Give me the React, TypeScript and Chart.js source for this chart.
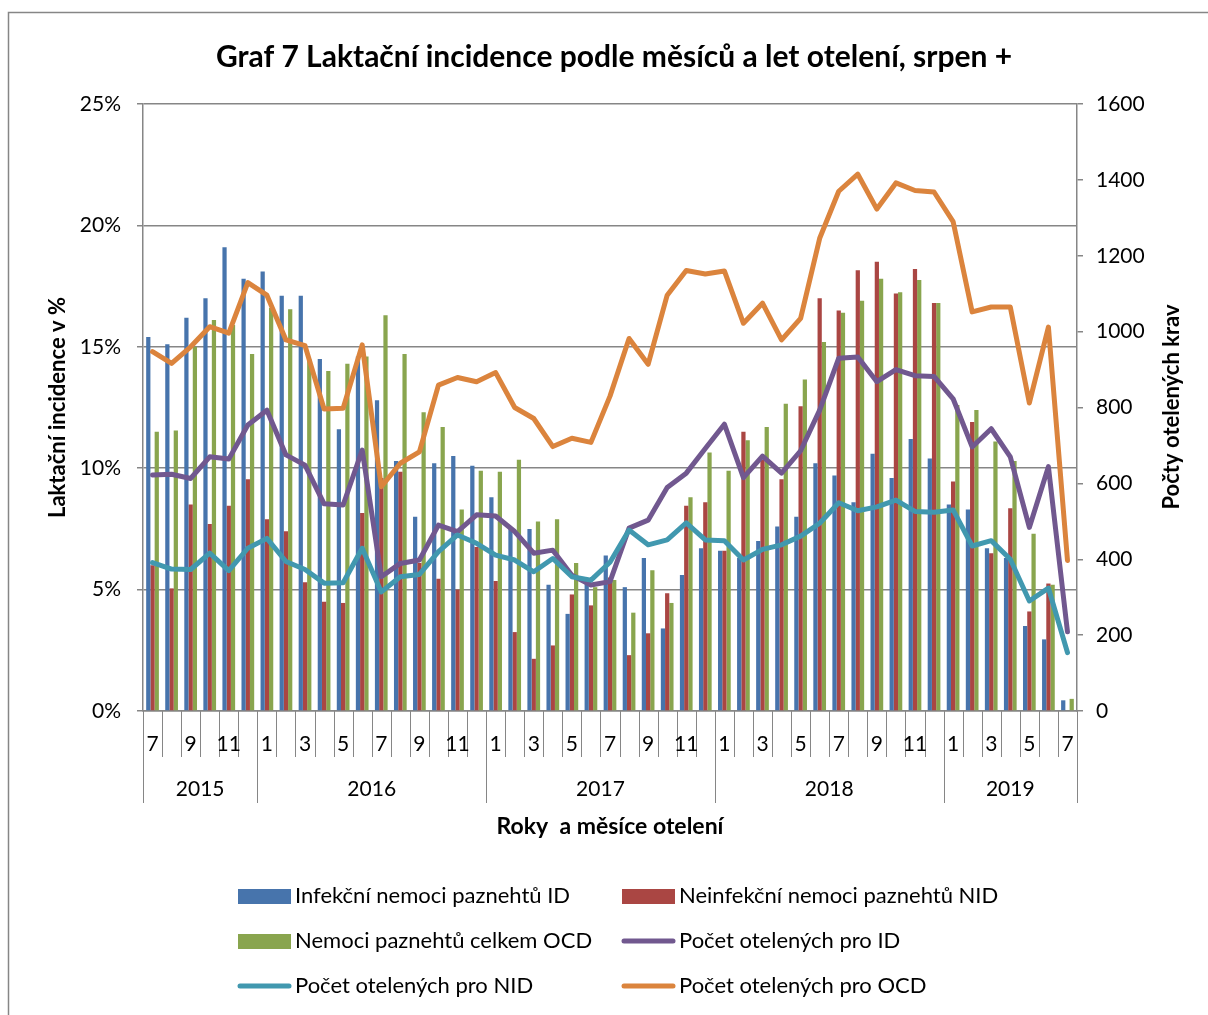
import { useEffect, useRef } from "react";
import { Chart, registerables } from "chart.js";

Chart.register(...registerables);

// ---- data ----
const monthLabels = [
  "7", "8", "9", "10", "11", "12",
  "1", "2", "3", "4", "5", "6", "7", "8", "9", "10", "11", "12",
  "1", "2", "3", "4", "5", "6", "7", "8", "9", "10", "11", "12",
  "1", "2", "3", "4", "5", "6", "7", "8", "9", "10", "11", "12",
  "1", "2", "3", "4", "5", "6", "7",
];
const yearLabels = ["2015", "2016", "2017", "2018", "2019"];
const monthsPerYear = [6, 12, 12, 12, 7];

const idPct = [
  15.4, 15.1, 16.2, 17.0, 19.1, 17.8,
  18.1, 17.1, 17.1, 14.5, 11.6, 14.6, 12.8, 10.3, 8.0, 10.2, 10.5, 10.1,
  8.8, 7.5, 7.5, 5.2, 4.0, 5.3, 6.4, 5.1, 6.3, 3.4, 5.6, 6.7,
  6.6, 6.3, 7.0, 7.6, 8.0, 10.2, 9.7, 8.6, 10.6, 9.6, 11.2, 10.4,
  8.5, 8.3, 6.7, 6.3, 3.5, 2.95, 0.44,
];
const nidPct = [
  6.0, 5.05, 8.5, 7.7, 8.45, 9.55,
  7.9, 7.4, 5.3, 4.5, 4.45, 8.15, 9.6, 9.85, 6.1, 5.45, 5.0, 6.75,
  5.35, 3.25, 2.15, 2.7, 4.8, 4.35, 5.5, 2.3, 3.2, 4.85, 8.45, 8.6,
  6.6, 11.5, 10.35, 9.55, 12.55, 17.0, 16.5, 18.15, 18.5, 17.2, 18.2, 16.8,
  9.45, 11.9, 6.5, 8.35, 4.1, 5.25, 0,
];
const ocdPct = [
  11.5, 11.55, 15.0, 16.1, 15.9, 14.7,
  16.6, 16.55, 14.5, 14.0, 14.3, 14.6, 16.3, 14.7, 12.3, 11.7, 8.3, 9.9,
  9.85, 10.35, 7.8, 7.9, 6.1, 5.1, 5.4, 4.05, 5.8, 4.45, 8.8, 10.65,
  9.9, 11.15, 11.7, 12.65, 13.65, 15.2, 16.4, 16.9, 17.8, 17.25, 17.75, 16.8,
  12.6, 12.4, 11.1, 10.3, 7.3, 5.2, 0.5,
];
const idCount = [
  622, 624, 613, 670, 664, 754,
  793, 675, 648, 546, 543, 688, 354, 389, 398, 490, 473, 517,
  514, 473, 416, 424, 358, 332, 341, 482, 503, 589, 627, 692,
  756, 615, 672, 627, 686, 793, 930, 933, 868, 900, 884, 882,
  823, 696, 744, 670, 484, 644, 209,
];
const nidCount = [
  391, 374, 373, 416, 370, 429,
  455, 394, 373, 337, 338, 429, 314, 354, 360, 420, 464, 442,
  411, 398, 367, 402, 354, 345, 392, 477, 438, 451, 496, 451,
  449, 398, 426, 438, 461, 495, 549, 528, 538, 556, 526, 524,
  530, 435, 449, 400, 290, 324, 154,
];
const ocdCount = [
  947, 916, 960, 1013, 996, 1129,
  1096, 978, 963, 796, 798, 965, 591, 653, 683, 859, 879, 868,
  892, 800, 771, 697, 719, 708, 830, 982, 914, 1096, 1161, 1152,
  1160, 1022, 1075, 978, 1035, 1246, 1370, 1415, 1323, 1392, 1372, 1368,
  1290, 1052, 1065, 1065, 812, 1012, 397,
];

const TITLE = "Graf 7 Laktační incidence podle měsíců a let otelení, srpen +";
const LEFT_TITLE = "Laktační incidence v %";
const RIGHT_TITLE = "Počty otelených krav";
const X_TITLE = "Roky  a měsíce otelení";

const C_BLUE = "#4774AC";
const C_RED = "#AA4643";
const C_GREEN = "#89A54E";
const C_PURPLE = "#71588F";
const C_TEAL = "#4198AF";
const C_ORANGE = "#DB843D";
const C_AXIS = "#868686";
const FONT = "Lato, 'Open Sans', sans-serif";

const legendItems = [
  { label: "Infekční nemoci paznehtů ID", color: C_BLUE, kind: "bar" },
  { label: "Neinfekční nemoci paznehtů NID", color: C_RED, kind: "bar" },
  { label: "Nemoci paznehtů celkem OCD", color: C_GREEN, kind: "bar" },
  { label: "Počet otelených pro ID", color: C_PURPLE, kind: "line" },
  { label: "Počet otelených pro NID", color: C_TEAL, kind: "line" },
  { label: "Počet otelených pro OCD", color: C_ORANGE, kind: "line" },
];

const decorPlugin = {
  id: "decor",
  afterDraw(chart: any) {
    const { ctx, chartArea: a, scales } = chart;
    const xs = scales.x;
    ctx.save();
    // outer frame
    ctx.strokeStyle = C_AXIS;
    ctx.lineWidth = 1.5;
    ctx.strokeRect(8.5, 12.5, 1400, 1200);

    // title
    ctx.fillStyle = "#000";
    ctx.textAlign = "center";
    ctx.textBaseline = "middle";
    ctx.font = `bold 30px ${FONT}`;
    ctx.fillText(TITLE, 614, 57);

    // right axis title (reads bottom to top)
    ctx.save();
    ctx.translate(1172, 407);
    ctx.rotate(-Math.PI / 2);
    ctx.font = `bold 22px ${FONT}`;
    ctx.fillText(RIGHT_TITLE, 0, 0);
    ctx.restore();

    // category axis: month separators, month labels, year labels
    const n = monthLabels.length;
    const step = (a.right - a.left) / n;
    const yearBounds = new Set<number>();
    let acc = 0;
    yearBounds.add(0);
    monthsPerYear.forEach((m) => {
      acc += m;
      yearBounds.add(acc);
    });
    ctx.strokeStyle = C_AXIS;
    ctx.lineWidth = 1;
    for (let i = 0; i <= n; i++) {
      const bx = Math.round(xs.getPixelForValue(i) - step / 2) + 0.5;
      const len = yearBounds.has(i) ? 92 : 46;
      ctx.beginPath();
      ctx.moveTo(bx, a.bottom);
      ctx.lineTo(bx, a.bottom + len);
      ctx.stroke();
    }
    ctx.font = `21px ${FONT}`;
    ctx.fillStyle = "#000";
    for (let i = 0; i < n; i += 2) {
      ctx.fillText(monthLabels[i], xs.getPixelForValue(i), a.bottom + 33);
    }
    let start = 0;
    yearLabels.forEach((y, k) => {
      const end = start + monthsPerYear[k];
      const cx = (xs.getPixelForValue(start) + xs.getPixelForValue(end - 1)) / 2;
      ctx.fillText(y, cx, a.bottom + 78);
      start = end;
    });

    // legend (2 columns x 3 rows)
    ctx.textAlign = "left";
    ctx.font = `22px ${FONT}`;
    legendItems.forEach((it, k) => {
      const col = k % 2;
      const row = Math.floor(k / 2);
      const sx = col === 0 ? 238 : 622;
      const sy = 896 + row * 45;
      if (it.kind === "bar") {
        ctx.fillStyle = it.color;
        ctx.fillRect(sx, sy - 7, 53, 15);
      } else {
        ctx.strokeStyle = it.color;
        ctx.lineWidth = 5;
        ctx.lineCap = "round";
        ctx.beginPath();
        ctx.moveTo(sx + 2, sy);
        ctx.lineTo(sx + 51, sy);
        ctx.stroke();
      }
      ctx.fillStyle = "#000";
      ctx.fillText(it.label, sx + 57, sy);
    });
    ctx.restore();
  },
};

export default function App() {
  const ref = useRef<HTMLCanvasElement | null>(null);
  useEffect(() => {
    if (!ref.current) return;
    const lineDs = (label: string, data: number[], color: string, order: number) => ({
      type: "line" as const,
      label,
      data,
      yAxisID: "y1",
      borderColor: color,
      backgroundColor: color,
      borderWidth: 5,
      pointRadius: 0,
      tension: 0,
      borderJoinStyle: "round" as const,
      borderCapStyle: "round" as const,
      order,
    });
    const barDs = (label: string, data: number[], color: string, order: number) => ({
      type: "bar" as const,
      label,
      data,
      yAxisID: "y",
      backgroundColor: color,
      borderWidth: 0,
      categoryPercentage: 0.667,
      barPercentage: 1,
      order,
    });
    const chart = new Chart(ref.current, {
      type: "bar",
      data: {
        labels: monthLabels,
        datasets: [
          barDs(legendItems[0].label, idPct, C_BLUE, 4),
          barDs(legendItems[1].label, nidPct, C_RED, 5),
          barDs(legendItems[2].label, ocdPct, C_GREEN, 6),
          lineDs(legendItems[3].label, idCount, C_PURPLE, 3),
          lineDs(legendItems[4].label, nidCount, C_TEAL, 2),
          lineDs(legendItems[5].label, ocdCount, C_ORANGE, 1),
        ] as any,
      },
      options: {
        responsive: false,
        animation: false,
        devicePixelRatio: 1,
        layout: { padding: { top: 104, left: 0, right: 0, bottom: 0 } },
        plugins: {
          legend: { display: false },
          title: { display: false },
          tooltip: { enabled: false },
        },
        scales: {
          x: {
            type: "category",
            offset: true,
            grid: { display: false },
            ticks: { display: false },
            border: { display: true, color: C_AXIS, width: 1.5 },
            title: {
              display: true,
              text: X_TITLE,
              color: "#000",
              font: { family: FONT, size: 23, weight: "bold" },
              padding: { top: 0, bottom: 175 },
            },
            afterFit: (s: any) => {
              s.height = 304;
            },
          },
          y: {
            position: "left",
            min: 0,
            max: 25,
            ticks: {
              stepSize: 5,
              color: "#000",
              font: { family: FONT, size: 21 },
              padding: 16,
              callback: (v: any) => `${v}%`,
            },
            grid: { color: C_AXIS, lineWidth: 1.5, tickLength: 6, drawTicks: true },
            border: { display: true, color: C_AXIS, width: 1.5 },
            title: {
              display: true,
              text: LEFT_TITLE,
              color: "#000",
              font: { family: FONT, size: 22, weight: "bold" },
              padding: { top: 45, bottom: 0 },
            },
            afterFit: (s: any) => {
              s.width = 143;
            },
          },
          y1: {
            position: "right",
            min: 0,
            max: 1600,
            ticks: {
              stepSize: 200,
              color: "#000",
              font: { family: FONT, size: 21 },
              padding: 13,
              callback: (v: any) => String(v),
            },
            grid: { drawOnChartArea: false, color: C_AXIS, lineWidth: 1.5, tickLength: 6 },
            border: { display: true, color: C_AXIS, width: 1.5 },
            afterFit: (s: any) => {
              s.width = 131;
            },
          },
        },
      },
      plugins: [decorPlugin],
    });
    return () => chart.destroy();
  }, []);
  return (
    <canvas
      ref={ref}
      width={1208}
      height={1015}
      style={{ position: "fixed", left: 0, top: 0, width: 1208, height: 1015 }}
    />
  );
}
